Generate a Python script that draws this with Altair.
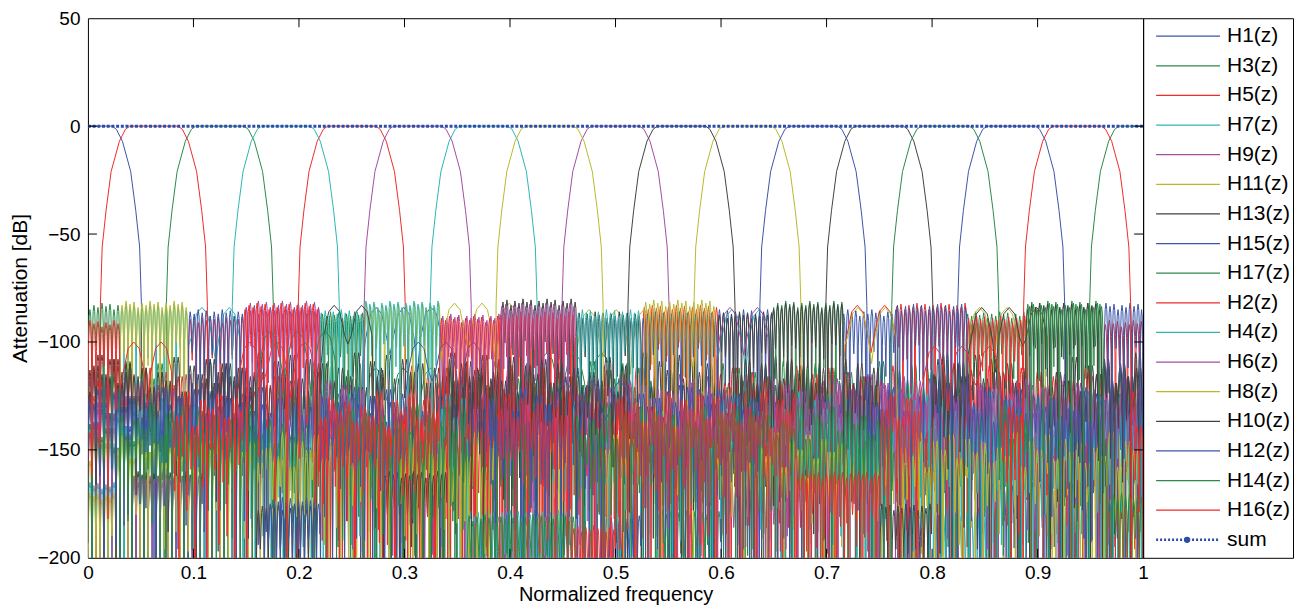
import altair as alt
import pandas as pd

alt.data_transformers.disable_max_rows()

# ---------------- data ----------------
FILTERS = ["H1", "H3", "H5", "H7", "H9", "H11", "H13", "H15", "H17",
           "H2", "H4", "H6", "H8", "H10", "H12", "H14", "H16"]
CENTER = [0.0, 0.125, 0.25, 0.375, 0.5, 0.625, 0.75, 0.875, 1.0,
          0.0625, 0.1875, 0.3125, 0.4375, 0.5625, 0.6875, 0.8125, 0.9375]
# typical stop-band lobe level of each filter outside the marked blocks (dB)
BASE_DB = [-122, -112, -114, -134, -118, -142, -108, -128, -138,
           -136, -126, -120, -145, -110, -124, -132, -126]

# pass-band / transition shape: distance from channel centre -> dB
EDGE_OFFSET = [0.0, 0.023, 0.027, 0.0327, 0.0405, 0.0453, 0.049, 0.0507]
EDGE_DB = [0.0, 0.0, -1.5, -7.0, -21.0, -39.0, -56.0, -83.0]

# stop-band blocks: (filter, from, to, lobe top dB, lobe kind n=narrow w=wide)
TOP_BAND_BLOCKS = [
    ("H14", 0.000, 0.030, -82, "n"), ("H16", 0.000, 0.030, -90, "n"),
    ("H11", 0.030, 0.095, -81, "n"), ("H7", 0.030, 0.095, -82.5, "n"),
    ("H7", 0.095, 0.148, -84, "w"), ("H15", 0.095, 0.148, -85, "n"), ("H5", 0.095, 0.148, -88, "n"),
    ("H9", 0.148, 0.220, -81, "n"), ("H16", 0.148, 0.220, -82, "n"), ("H6", 0.148, 0.220, -84, "n"),
    ("H10", 0.220, 0.262, -83, "w"), ("H17", 0.220, 0.262, -86, "n"), ("H7", 0.220, 0.262, -85, "n"),
    ("H4", 0.262, 0.335, -81, "n"), ("H11", 0.262, 0.335, -82, "n"), ("H1", 0.262, 0.335, -84, "w"),
    ("H11", 0.335, 0.390, -82, "w"), ("H16", 0.335, 0.390, -88, "n"), ("H9", 0.335, 0.390, -87, "n"),
    ("H13", 0.390, 0.462, -80, "n"), ("H6", 0.390, 0.462, -82, "n"), ("H2", 0.390, 0.462, -86, "n"),
    ("H4", 0.462, 0.525, -85, "n"), ("H11", 0.462, 0.525, -85, "w"), ("H13", 0.462, 0.525, -86, "n"),
    ("H8", 0.525, 0.597, -80.5, "n"), ("H5", 0.525, 0.597, -83, "n"), ("H15", 0.525, 0.597, -86, "n"),
    ("H6", 0.597, 0.649, -84, "w"), ("H7", 0.597, 0.649, -85, "w"), ("H1", 0.597, 0.649, -85, "n"),
    ("H13", 0.597, 0.649, -86, "n"),
    ("H17", 0.649, 0.716, -81, "n"), ("H10", 0.649, 0.716, -82, "n"),
    ("H8", 0.716, 0.766, -84, "w"), ("H2", 0.716, 0.766, -83, "w"), ("H15", 0.716, 0.766, -85, "n"),
    ("H5", 0.766, 0.833, -82, "n"), ("H12", 0.766, 0.833, -82.5, "n"),
    ("H10", 0.833, 0.889, -84, "w"), ("H11", 0.833, 0.889, -84, "w"), ("H3", 0.833, 0.889, -86, "n"),
    ("H2", 0.833, 0.889, -88, "n"),
    ("H3", 0.889, 0.962, -81, "n"), ("H14", 0.889, 0.962, -82, "n"), ("H13", 0.889, 0.962, -82, "n"),
    ("H12", 0.962, 1.000, -82, "n"), ("H5", 0.962, 1.000, -90, "n"),
]
MID_ARC_BLOCKS = [
    ("H16", 0.030, 0.080, -100, "w"), ("H14", 0.160, 0.215, -95, "w"),
    ("H3", 0.260, 0.330, -112, "w"), ("H12", 0.440, 0.500, -118, "w"),
    ("H2", 0.140, 0.200, -100, "w"), ("H17", 0.420, 0.480, -105, "w"),
    ("H12", 0.300, 0.360, -100, "w"), ("H16", 0.790, 0.860, -102, "w"),
]
LOWER_CLUMP_BLOCKS = [
    ("H4", 0.000, 0.025, -165, "n"), ("H8", 0.000, 0.025, -170, "n"),
    ("H13", 0.040, 0.110, -160, "n"), ("H6", 0.040, 0.110, -162, "n"),
    ("H12", 0.170, 0.220, -172, "n"), ("H10", 0.160, 0.215, -175, "n"),
    ("H10", 0.280, 0.340, -160, "n"), ("H9", 0.275, 0.335, -163, "n"),
    ("H4", 0.360, 0.460, -178, "n"), ("H14", 0.360, 0.460, -180, "n"),
    ("H16", 0.460, 0.500, -185, "n"), ("H15", 0.490, 0.525, -180, "n"),
    ("H3", 0.540, 0.600, -178, "n"), ("H9", 0.600, 0.670, -165, "n"),
    ("H16", 0.670, 0.750, -160, "n"), ("H10", 0.750, 0.800, -175, "n"),
    ("H7", 0.800, 0.850, -178, "n"), ("H1", 0.850, 0.950, -165, "n"),
    ("H11", 0.890, 0.950, -168, "n"), ("H14", 0.965, 1.000, -170, "n"),
    ("H2", 0.965, 1.000, -175, "n"),
]

# lobe texture
NARROW_LOBE = 0.0038
WIDE_LOBE = 0.026
LOBE_U = [0.0, 0.12, 0.3, 0.5, 0.7, 0.88]
LOBE_DB = [0.0, -14.0, -3.0, 0.0, -3.0, -14.0]
NULL_DROP = [30, 55, 20, 90, 25, 40, 140, 18, 35, 70]
WIDE_NULL_DROP = [22, 30, 18, 26]
TOP_JITTER = [0.0, -1.5, -0.5, -3.0, -1.0, -2.0]
BASE_JITTER = [0, -6, -2, -11, -4, -8, 3, -13, -1, -5, 2, -9]
FLOOR_DB = -205

SUM_F = [0.0, 0.25, 0.5, 0.75, 1.0]
SUM_DB = [0.0, 0.0, 0.0, 0.0, 0.0]

# ---------------- styles ----------------
BLUE, GREEN, RED, CYAN = "#3b55a8", "#2b8a47", "#ee2b2b", "#2db5b5"
MAGENTA, YELLOW, BLACK = "#a44ca2", "#b9b92e", "#424242"
COLOR = dict(zip(FILTERS, [BLUE, GREEN, RED, CYAN, MAGENTA, YELLOW, BLACK, BLUE, GREEN,
                           RED, CYAN, MAGENTA, YELLOW, BLACK, BLUE, GREEN, RED]))
SUM_COLOR = "#2c4ca6"
FONT = "Liberation Sans"

# ---------------- build the curves ----------------
ALL_BLOCKS = MID_ARC_BLOCKS + TOP_BAND_BLOCKS + LOWER_CLUMP_BLOCKS


def level_at(name, base, f):
    top, kind, in_block = base, "n", False
    for (n, a, b, t, k) in ALL_BLOCKS:
        if n == name and a <= f < b:
            top, kind, in_block = t, k, True
    return top, kind, in_block


rows = []
for idx, (name, c, base) in enumerate(zip(FILTERS, CENTER, BASE_DB)):
    pts = []
    half = EDGE_OFFSET[-1] + 0.0005
    intervals = []
    if c - half > 0:
        intervals.append((0.0, c - half))
    if c + half < 1:
        intervals.append((c + half, 1.0))
    j = idx * 3
    for (a, b) in intervals:
        f = a
        while f < b - 1e-6:
            top, kind, in_block = level_at(name, base, f + NARROW_LOBE / 2)
            w = NARROW_LOBE if kind == "n" else WIDE_LOBE
            w = min(w, b - f)
            if kind == "n":
                if in_block:
                    top = top + TOP_JITTER[j % len(TOP_JITTER)]
                else:
                    top = top + BASE_JITTER[(j // 2) % len(BASE_JITTER)]
                drop = NULL_DROP[j % len(NULL_DROP)]
            else:
                drop = WIDE_NULL_DROP[j % len(WIDE_NULL_DROP)]
            pts.append((f, max(top - drop, FLOOR_DB)))
            for u, d in zip(LOBE_U[1:], LOBE_DB[1:]):
                pts.append((f + u * w, top + d))
            f += w
            j += 1
        pts.append((b, FLOOR_DB))
    # pass band
    for o, d in zip(EDGE_OFFSET, EDGE_DB):
        for s in ([-1, 1] if o > 0 else [1]):
            x = c + s * o
            if 0 <= x <= 1:
                pts.append((x, d))
    pts.sort()
    for (x, d) in pts:
        rows.append({"n": name, "f": round(x, 5), "d": round(d, 1)})

df = pd.DataFrame(rows)
sum_df = pd.DataFrame({"f": SUM_F, "d": SUM_DB})

W, H = 1056, 540
LEG_W = 150

xscale = alt.Scale(domain=[0, 1], nice=False, zero=False)
yscale = alt.Scale(domain=[-200, 50], nice=False, zero=False)
X_TICKS = [0, 0.1, 0.2, 0.3, 0.4, 0.5, 0.6, 0.7, 0.8, 0.9, 1.0]
Y_TICKS = [-200, -150, -100, -50, 0, 50]

xaxis = alt.Axis(values=X_TICKS, title="Normalized frequency", grid=False, domain=False,
                 ticks=False, labelFontSize=19, titleFontSize=20, labelPadding=6,
                 titlePadding=2, titleFontWeight="normal", labelColor="black",
                 titleColor="black", labelFont=FONT, titleFont=FONT, labelFlush=False,
                 labelExpr="datum.value == 0 ? '0' : datum.value == 1 ? '1' : format(datum.value, '.1f')")
yaxis = alt.Axis(values=Y_TICKS, title="Attenuation [dB]", grid=False, domain=False,
                 ticks=False, labelFontSize=19, titleFontSize=21, labelPadding=8,
                 titlePadding=7, titleFontWeight="normal", labelColor="black",
                 titleColor="black", labelFont=FONT, titleFont=FONT, labelFlush=False)

X_ENC = alt.X("f:Q", scale=xscale, axis=xaxis)
Y_ENC = alt.Y("d:Q", scale=yscale, axis=yaxis)

base = alt.Chart(df)
layers = []
for name in FILTERS:
    layers.append(
        base.transform_filter(alt.datum.n == name)
        .mark_line(color=COLOR[name], strokeWidth=1, clip=True)
        .encode(x=X_ENC, y=Y_ENC)
    )

sum_layer = alt.Chart(sum_df).mark_line(
    color=SUM_COLOR, strokeWidth=3, strokeDash=[3, 1.7], clip=True
).encode(x=X_ENC, y=Y_ENC)

ytick_df = pd.DataFrame({"d": Y_TICKS[1:-1]})
xtick_df = pd.DataFrame({"f": X_TICKS[1:-1]})
tick_layers = [
    alt.Chart(ytick_df).mark_rule(color="black", strokeWidth=1).encode(
        y=Y_ENC, x=alt.value(0), x2=alt.value(9)),
    alt.Chart(ytick_df).mark_rule(color="black", strokeWidth=1).encode(
        y=Y_ENC, x=alt.value(W - 9), x2=alt.value(W)),
    alt.Chart(xtick_df).mark_rule(color="black", strokeWidth=1).encode(
        x=X_ENC, y=alt.value(H - 9), y2=alt.value(H)),
    alt.Chart(xtick_df).mark_rule(color="black", strokeWidth=1).encode(
        x=X_ENC, y=alt.value(0), y2=alt.value(9)),
]

main = alt.layer(*layers, sum_layer, *tick_layers).properties(width=W, height=H)

# ---------------- legend panel ----------------
LEGEND_NAMES = [n + "(z)" for n in FILTERS] + ["sum"]
leg_df = pd.DataFrame({"i": list(range(len(LEGEND_NAMES))), "lab": LEGEND_NAMES,
                       "c": [COLOR[n] for n in FILTERS] + [SUM_COLOR]})
lscale = alt.Scale(domain=[-0.607, 17.607], reverse=True, nice=False, zero=False)
LINE_X0, LINE_X1, LABEL_X, DOT_X = 13, 77, 84, 44
L_Y = alt.Y("i:Q", scale=lscale, axis=None)

leg_lines = alt.Chart(leg_df).transform_filter(alt.datum.i < 17).mark_rule(strokeWidth=1.2).encode(
    x=alt.value(LINE_X0), x2=alt.value(LINE_X1), y=L_Y,
    color=alt.Color("c:N", scale=None, legend=None))
leg_sum = alt.Chart(leg_df).transform_filter(alt.datum.i == 17).mark_rule(
    strokeWidth=2.5, strokeDash=[2, 2], color=SUM_COLOR).encode(
    x=alt.value(LINE_X0), x2=alt.value(LINE_X1), y=L_Y)
leg_dot = alt.Chart(leg_df).transform_filter(alt.datum.i == 17).mark_point(
    filled=True, size=40, color=SUM_COLOR, opacity=1).encode(
    x=alt.value(DOT_X), y=L_Y)
leg_text = alt.Chart(leg_df).mark_text(align="left", baseline="middle", fontSize=21,
                                       font=FONT, color="black").encode(
    x=alt.value(LABEL_X), y=L_Y, text="lab:N")

legend = alt.layer(leg_lines, leg_sum, leg_dot, leg_text).properties(width=LEG_W, height=H)

chart = alt.hconcat(main, legend, spacing=0, bounds="flush").properties(
    padding={"left": 0, "top": 0, "right": 0, "bottom": 0},
).configure(
    font=FONT, background="white"
).configure_view(stroke="black", strokeWidth=1)

chart.save("out.html", embed_options={"renderer": "svg", "actions": False})
